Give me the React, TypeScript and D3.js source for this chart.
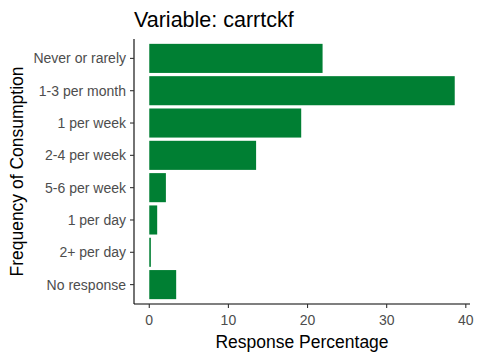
import React from "react";
import * as d3 from "d3";

const categories = [
  "Never or rarely",
  "1-3 per month",
  "1 per week",
  "2-4 per week",
  "5-6 per week",
  "1 per day",
  "2+ per day",
  "No response",
];
const percentages = [21.9, 38.6, 19.2, 13.5, 2.1, 1.0, 0.2, 3.4];
const xTicks = [0, 10, 20, 30, 40];

const title = "Variable: carrtckf";
const xTitle = "Response Percentage";
const yTitle = "Frequency of Consumption";

const App = () => {
  const width = 480;
  const height = 360;
  const margin = { top: 39, right: 10, bottom: 56, left: 134 };
  const panelW = width - margin.left - margin.right;
  const panelH = height - margin.top - margin.bottom;

  const maxVal = d3.max(percentages) as number;
  // ggplot-style 5% expansion
  const xScale = d3
    .scaleLinear()
    .domain([-0.05 * maxVal, maxVal * 1.05])
    .range([margin.left, margin.left + panelW]);

  // discrete expansion of 0.6 band on each side
  const step = panelH / (categories.length - 1 + 1.2);
  const yCenter = (i: number) => margin.top + step * (0.6 + i);
  const barH = step * 0.9;

  const font = "'Liberation Sans', Arial, sans-serif";
  const axisY = margin.top + panelH;

  return (
    <svg width={width} height={height} style={{ position: "absolute", left: 0, top: 0 }} fontFamily={font}>
      <rect width={width} height={height} fill="white" />
      <text x={margin.left} y={27} fontSize={21.5} fill="black">
        {title}
      </text>

      {percentages.map((v, i) => (
        <rect
          key={categories[i]}
          x={xScale(0)}
          y={yCenter(i) - barH / 2}
          width={xScale(v) - xScale(0)}
          height={barH}
          fill="#007F33"
        />
      ))}

      {/* y axis */}
      <line x1={margin.left} x2={margin.left} y1={margin.top} y2={axisY} stroke="black" strokeWidth={1.1} />
      {categories.map((c, i) => (
        <g key={c}>
          <line x1={margin.left - 4} x2={margin.left} y1={yCenter(i)} y2={yCenter(i)} stroke="#333" strokeWidth={1.1} />
          <text x={margin.left - 8} y={yCenter(i)} dy="0.35em" textAnchor="end" fontSize={14} fill="#4D4D4D">
            {c}
          </text>
        </g>
      ))}

      {/* x axis */}
      <line x1={margin.left} x2={margin.left + panelW} y1={axisY} y2={axisY} stroke="black" strokeWidth={1.1} />
      {xTicks.map((t) => (
        <g key={t}>
          <line x1={xScale(t)} x2={xScale(t)} y1={axisY} y2={axisY + 4} stroke="#333" strokeWidth={1.1} />
          <text x={xScale(t)} y={axisY + 21} textAnchor="middle" fontSize={14} fill="#4D4D4D">
            {t}
          </text>
        </g>
      ))}

      <text x={margin.left + panelW / 2} y={348} textAnchor="middle" fontSize={17.5} fill="black">
        {xTitle}
      </text>
      <text
        transform={`translate(23, ${margin.top + panelH / 2}) rotate(-90)`}
        textAnchor="middle"
        fontSize={17.5}
        fill="black"
      >
        {yTitle}
      </text>
    </svg>
  );
};

export default App;
